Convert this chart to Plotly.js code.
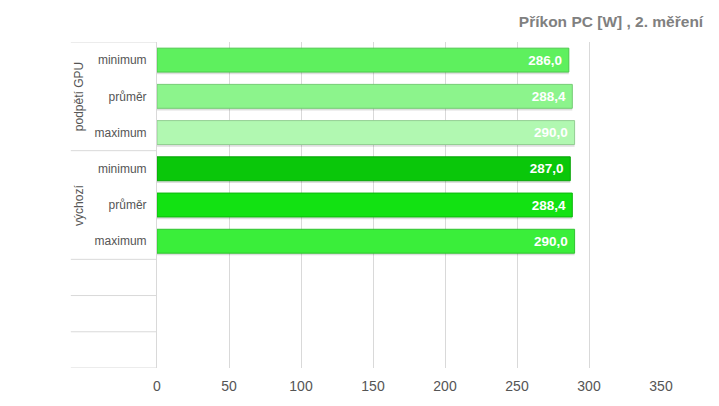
<!DOCTYPE html>
<html>
<head>
<meta charset="utf-8">
<script src="https://cdn.plot.ly/plotly-3.0.1.min.js"></script>
<style>html,body{margin:0;padding:0;background:#fff}#chart{width:719px;height:406px}</style>
</head>
<body>
<div id="chart"></div>
<script>
// Data
var groups = ["podpětí GPU", "výchozí"];
var items = ["minimum", "průměr", "maximum", "minimum", "průměr", "maximum"];
var itemGroup = [0, 0, 0, 1, 1, 1];
var values = [286.0, 288.4, 290.0, 287.0, 288.4, 290.0];
var emptyRows = 3;
var xTicks = [0, 50, 100, 150, 200, 250, 300, 350];
var titleText = "Příkon PC [W] , 2. měření";

// Styles
var barColors = ["#5ef05e", "#8cf48c", "#b1f8b1", "#0ac70a", "#12e212", "#3aee3a"];
var lineColors = ["#4cc84c", "#74cc74", "#93cf93", "#08a408", "#0eb80e", "#30c430"];

var n = items.length;
var total = n + emptyRows;
var yPos = items.map(function (_, i) { return i; });
var barW = 0.66;

var shadow = {
  type: "bar",
  orientation: "h",
  x: values,
  y: yPos,
  width: barW,
  offset: -barW / 2 + 0.06,
  marker: { color: "rgba(0,0,0,0.13)", line: { width: 0 } },
  hoverinfo: "none"
};

var trace = {
  type: "bar",
  orientation: "h",
  x: values,
  y: yPos,
  width: barW,
  offset: -barW / 2,
  marker: { color: barColors, line: { color: lineColors, width: 1 } },
  texttemplate: "%{x:.1f} ",
  textposition: "inside",
  insidetextanchor: "end",
  textfont: { family: "Liberation Sans, Arial, sans-serif", size: 13.5, color: "#ffffff", weight: "bold" },
  hoverinfo: "none",
  cliponaxis: false
};

// separators on the left label area (group boundaries and empty rows)
var shapes = [];
var sepX0 = -0.171;
var bounds = [-0.5];
for (var i = 1; i < n; i++) { if (itemGroup[i] !== itemGroup[i - 1]) bounds.push(i - 0.5); }
for (var k = n; k <= total; k++) bounds.push(k - 0.5);
bounds.forEach(function (b) {
  shapes.push({ type: "line", xref: "paper", yref: "y", x0: sepX0, x1: 0, y0: b, y1: b,
    line: { color: "#d9d9d9", width: 1 }, layer: "below" });
});

var annotations = groups.map(function (g, gi) {
  var idx = [];
  itemGroup.forEach(function (v, i) { if (v === gi) idx.push(i); });
  var mid = (idx[0] + idx[idx.length - 1]) / 2;
  return { text: g, xref: "paper", yref: "y", x: -0.155, y: mid, textangle: -90,
    showarrow: false, xanchor: "center", yanchor: "middle",
    font: { family: "Liberation Sans, Arial, sans-serif", size: 12, color: "#555555" } };
});

var layout = {
  width: 719, height: 406,
  margin: { l: 157, r: 58, t: 42, b: 38 },
  paper_bgcolor: "#ffffff", plot_bgcolor: "#ffffff",
  separators: ", ",
  showlegend: false,
  barmode: "overlay",
  font: { family: "Liberation Sans, Arial, sans-serif", color: "#555555" },
  title: { text: titleText, xref: "container", yref: "container", x: 0.978, xanchor: "right",
    y: 0.946, yanchor: "middle",
    font: { family: "Liberation Sans, Arial, sans-serif", size: 15.5, color: "#808080", weight: "bold" } },
  xaxis: { range: [0, 350], tickvals: xTicks, showgrid: true, gridcolor: "#d9d9d9", gridwidth: 1,
    zeroline: false, showline: false, ticks: "", ticklabelstandoff: 8,
    tickfont: { size: 14, color: "#555555" }, fixedrange: true },
  yaxis: { range: [total - 0.5, -0.5], tickvals: yPos, ticktext: items, showgrid: false,
    zeroline: false, showline: true, linecolor: "#d9d9d9", linewidth: 1, ticks: "",
    ticklabelstandoff: 7, tickfont: { size: 12, color: "#555555" }, fixedrange: true },
  shapes: shapes,
  annotations: annotations
};

Plotly.newPlot("chart", [shadow, trace], layout, { displayModeBar: false, staticPlot: true });
</script>
</body>
</html>
